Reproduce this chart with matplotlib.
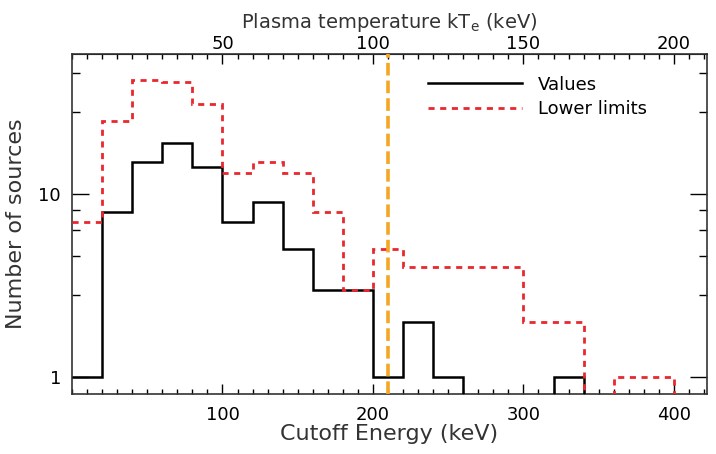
import matplotlib
matplotlib.use("Agg")
import matplotlib.pyplot as plt
from matplotlib.ticker import MultipleLocator, FixedLocator, NullFormatter, FuncFormatter
import numpy as np

# bin edges in keV (20 keV bins)
edges = np.arange(0, 440, 20)

# counts per bin
values = [1, 8, 15, 19, 14, 7, 9, 5, 3, 3, 1, 2, 1, 0, 0, 0, 1, 0, 0, 0, 0]
lower_limits = [7, 25, 42, 41, 31, 13, 15, 13, 8, 3, 5, 4, 4, 4, 4, 2, 2, 0, 1, 1, 0]

e_cut_mark = 210  # keV

def for_log(c):
    c = np.asarray(c, dtype=float)
    return np.where(c > 0, c, 1e-3)

fig = plt.figure(figsize=(7.16, 4.54), dpi=100)
ax = fig.add_axes([0.1006, 0.1322, 0.8868, 0.7482])

ax.stairs(for_log(values), edges, baseline=None, color="black", lw=1.8,
          label="Values", zorder=3)
ax.stairs(for_log(lower_limits), edges, baseline=None, color="#e8282e", lw=2.0,
          ls=(0, (2.2, 2.0)), label="Lower limits", zorder=4)
ax.axvline(e_cut_mark, color="#f5a623", lw=2.6, ls=(0, (3.5, 1.4)), zorder=5)

ax.set_yscale("log")
ax.set_xlim(0, 422)
ax.set_ylim(0.81, 58)

ax.set_xticks([100, 200, 300, 400])
ax.xaxis.set_minor_locator(MultipleLocator(10))
ax.yaxis.set_major_locator(FixedLocator([1, 10]))
ax.yaxis.set_major_formatter(FuncFormatter(lambda v, p: "%d" % v))
ax.yaxis.set_minor_locator(FixedLocator([2.8, 4.6, 6.4, 8.2, 28, 46]))
ax.yaxis.set_minor_formatter(NullFormatter())

ax.tick_params(axis="x", which="both", direction="in", top=False, labelsize=13, pad=9)
ax.tick_params(axis="x", which="major", length=7, width=1)
ax.tick_params(axis="x", which="minor", length=3.5, width=1)
ax.tick_params(axis="y", which="both", direction="in", right=True, labelsize=13, pad=8)
ax.tick_params(axis="y", which="major", length=12, width=1)
ax.tick_params(axis="y", which="minor", length=6, width=1)
for s in ax.spines.values():
    s.set_linewidth(1.2)
    s.set_color("#333333")

ax.set_xlabel("Cutoff Energy (keV)", fontsize=16, labelpad=0, color="#333333")
ax.set_ylabel("Number of sources", fontsize=16, labelpad=9, color="#333333")

top = ax.secondary_xaxis("top", functions=(lambda e: e / 2.0, lambda t: t * 2.0))
top.set_xticks([50, 100, 150, 200])
top.xaxis.set_minor_locator(MultipleLocator(5))
top.tick_params(axis="x", which="both", direction="in", labelsize=13, pad=1)
top.tick_params(axis="x", which="major", length=7, width=1)
top.tick_params(axis="x", which="minor", length=3.5, width=1)
top.set_xlabel(r"Plasma temperature kT$_\mathregular{e}$ (keV)", fontsize=14,
               labelpad=5, color="#333333")

leg = ax.legend(loc="upper left", bbox_to_anchor=(0.535, 0.985), frameon=False,
                fontsize=13, handlelength=5.2, handletextpad=0.9, labelspacing=0.35)

fig.savefig("out.png", dpi=100)
